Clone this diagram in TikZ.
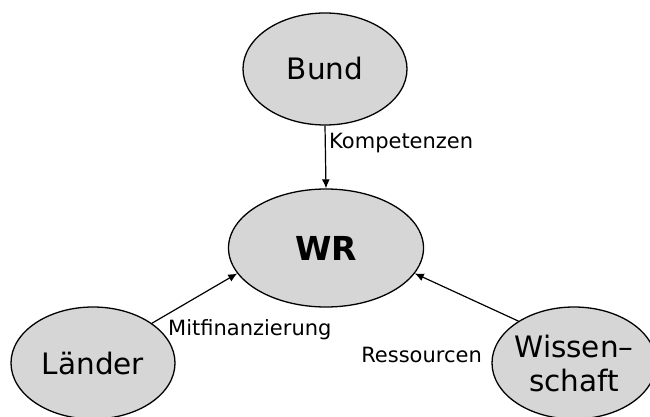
\documentclass[tikz,border=0pt]{standalone}
\usepackage{fontspec}
\setmainfont{DejaVu Sans}
\usetikzlibrary{shapes.geometric,arrows.meta}
\definecolor{ellfill}{gray}{0.84}
\tikzset{
  ell/.style={ellipse, draw=black, line width=1.3pt, fill=ellfill, inner sep=0pt,
    minimum width=164pt, minimum height=112pt, align=center,
    font=\fontsize{29.5}{34}\selectfont},
  bigell/.style={ell, minimum width=195pt, minimum height=118pt,
    font=\fontsize{33}{38}\selectfont\bfseries},
  conn/.style={line width=1.2pt, -{Latex[length=9pt,width=8pt]}},
  lbl/.style={inner sep=0pt, font=\fontsize{21}{24}\selectfont}
}
\begin{document}
\begin{tikzpicture}[x=1pt,y=-1pt]
\useasboundingbox (0,0) rectangle (650,417);
\node[ell] (bund) at (325,69) {Bund};
\node[bigell] (wr) at (326,248) {WR};
\node[ell] (laender) at (93,363) {Länder};
\node[ell, inner xsep=-6pt] (wiss) at (574,363) {Wissen--\\schaft};
\draw[conn] (bund.south) -- (wr.north);
\draw[conn] (laender.34) -- (wr.196);
\draw[conn] (wiss.143) -- (wr.344);
\node[lbl, anchor=base west] (komp) at (329,148) {Kompetenzen};
\node[lbl, anchor=base west] (mitf) at (168,335) {Mitfinanzierung};
\node[lbl, anchor=base east] (ress) at (482,362) {Ressourcen};
\end{tikzpicture}
\end{document}
